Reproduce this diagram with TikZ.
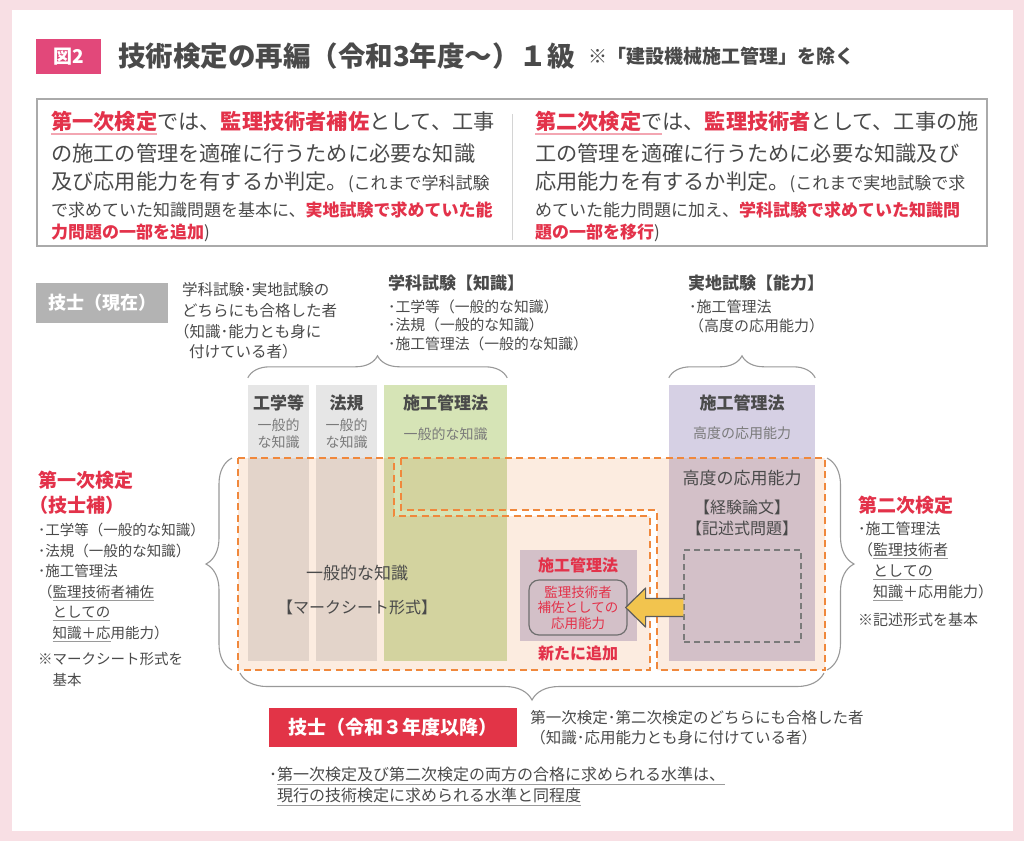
\documentclass[tikz,border=0pt]{standalone}
\usepackage{fontspec}
\setmainfont{Noto Sans CJK JP}
\usetikzlibrary{positioning,calc,decorations.pathreplacing}

\definecolor{framepink}{HTML}{F8DFE4}
\definecolor{figpink}{HTML}{E2487A}
\definecolor{inkgray}{HTML}{4A4A4A}
\definecolor{subgray}{HTML}{7A7A7A}
\definecolor{keyred}{HTML}{E3324A}
\definecolor{ulpink}{HTML}{F3A6B2}
\definecolor{ulgray}{HTML}{9A9A9A}
\definecolor{boxline}{HTML}{AAAAAA}
\definecolor{colgray}{HTML}{E6E6E6}
\definecolor{colgreen}{HTML}{D6E4B6}
\definecolor{colpurple}{HTML}{D6D0E4}
\definecolor{peach}{HTML}{FCECE0}
\definecolor{dashorange}{HTML}{F0883C}
\definecolor{arrowyellow}{HTML}{F2C44E}
\definecolor{bracegray}{HTML}{999999}
\definecolor{genzaigray}{HTML}{B3B3B3}
\definecolor{redbox}{HTML}{E23447}

\newcommand\fsz[1]{\fontsize{#1}{#1}\selectfont}
\newcommand\kr[1]{{\color{keyred}\bfseries #1}}
\newsavebox\ulbox
\newcommand\ulx[4][1.1pt]{\sbox\ulbox{#4}\rlap{\color{#2}\rule[#3]{\wd\ulbox}{#1}}\usebox\ulbox}

\begin{document}
\begin{tikzpicture}[x=1pt,y=-1pt,
    side text/.style={inner sep=0pt,anchor=west,text=inkgray,align=left},
    col box/.style={inner sep=0pt,minimum width=#1,minimum height=276},
    col title/.style={inner sep=0pt,text=inkgray,font=\bfseries\fsz{17}},
    col note/.style={inner sep=0pt,text=subgray,align=center,font=\fontsize{14}{17}\selectfont},
    mid text/.style={inner sep=0pt,text=inkgray,font=\fsz{17}},
    curly/.style={draw=bracegray,line width=1.1pt,decorate,decoration={brace,amplitude=#1}},
    zone/.style={draw=dashorange,line width=1.6pt,dash pattern=on 7pt off 4.5pt},
    tag/.style={inner sep=0pt,text=white,font=\bfseries\fsz{19}}]

\fill[framepink] (0,0) rectangle (1024,841);
\fill[white] (12,10) rectangle (1013,831);
\useasboundingbox (0,0) rectangle (1024,841);

% title
\node[tag,fill=figpink,minimum width=65,minimum height=35] (fig) at (68.5,56.5) {図2};
\node[side text,font=\bfseries\fsz{27.5}] (title) at (118,56) {技術検定の再編（令和3年度〜）１級};
\node[side text,font=\bfseries\fsz{19},right=13pt of title] (except) {※「建設機械施工管理」を除く};

% intro box
\node[draw=boxline,line width=1.3pt,minimum width=950,minimum height=147,inner sep=0pt] (intro) at (512,172.5) {};
\draw[boxline!50,line width=1pt] ([yshift=-16]intro.north) -- ([yshift=7]intro.south);

\node[side text,font=\fsz{21.2}] (first1) at (51,123) {\ulx[1.8pt]{ulpink}{-5pt}{\kr{第一次検定}}では、\kr{監理技術者補佐}として、工事};
\node[side text,font=\fsz{21.2}] (first2) at (51,153) {の施工の管理を適確に行うために必要な知識};
\node[side text,font=\fsz{21.2}] (first3) at (51,182) {及び応用能力を有するか判定。{\fsz{17}(これまで学科試験}};
\node[side text,font=\fsz{17}] (first4) at (51,210) {で求めていた知識問題を基本に、\kr{実地試験で求めていた能}};
\node[side text,font=\fsz{17}] (first5) at (51,233) {\kr{力問題の一部を追加})};

\node[side text,font=\fsz{21.2}] (second1) at (535,123) {\ulx[1.8pt]{ulpink}{-5pt}{\kr{第二次検定}で}は、\kr{監理技術者}として、工事の施};
\node[side text,font=\fsz{21.2}] (second2) at (535,153) {工の管理を適確に行うために必要な知識及び};
\node[side text,font=\fsz{21.2}] (second3) at (535,182) {応用能力を有するか判定。{\fsz{17}(これまで実地試験で求}};
\node[side text,font=\fsz{17}] (second4) at (535,210) {めていた能力問題に加え、\kr{学科試験で求めていた知識問}};
\node[side text,font=\fsz{17}] (second5) at (535,233) {\kr{題の一部を移行})};

% current engineer and old exams
\node[tag,fill=genzaigray,minimum width=132,minimum height=40,font=\bfseries\fsz{18}] (ginoNow) at (102,303) {技士（現在）};
\node[side text,font=\fontsize{15.5}{20.7}\selectfont] (ginoNowNote) at (182,321) {学科試験･実地試験の\\どちらにも合格した者\\\hspace*{-8pt}（知識･能力とも身に\\\hspace*{7pt}付けている者）};

\node[side text,font=\bfseries\fsz{17}] (gakkaHead) at (388,283) {学科試験【知識】};
\node[side text,font=\fontsize{14.8}{18.5}\selectfont] (gakkaList) at (388,325) {･工学等（一般的な知識）\\･法規（一般的な知識）\\･施工管理法（一般的な知識）};
\node[side text,font=\bfseries\fsz{17}] (jitchiHead) at (688,283) {実地試験【能力】};
\node[side text,font=\fontsize{15}{19}\selectfont] (jitchiList) at (689,316.5) {･施工管理法\\（高度の応用能力）};

% columns
\node[col box=61,fill=colgray] (kougaku) at (278.5,523) {};
\node[col box=61,fill=colgray] (houki) at (346.5,523) {};
\node[col box=123,fill=colgreen] (sekou) at (445.5,523) {};
\node[col box=146,fill=colpurple] (jitchi) at (742,523) {};

\draw[curly=22pt] ([yshift=7]kougaku.north west) -- ([yshift=7]sekou.north east);
\draw[curly=22pt] ([yshift=7]jitchi.north west) -- ([yshift=7]jitchi.north east);

% new exams
\begin{scope}[blend mode=multiply]
\fill[peach] (238,458) -- (394,458) -- (394,516) -- (650,516) -- (650,670) -- (238,670) -- cycle;
\fill[peach] (401,458) -- (825,458) -- (825,670) -- (657,670) -- (657,510) -- (401,510) -- cycle;
\node[fill=colpurple,minimum width=117,minimum height=91,inner sep=0pt] (newbox) at (578.5,595.5) {};
\end{scope}
\draw[zone] (238,458) -- (394,458) -- (394,516) -- (650,516) -- (650,670) -- (238,670) -- cycle;
\draw[zone] (401,458) -- (825,458) -- (825,670) -- (657,670) -- (657,510) -- (401,510) -- cycle;

\node[col title] (kougakuT) at ([yshift=-18]kougaku.north) {工学等};
\node[col note] (kougakuN) at ([yshift=-48.5]kougaku.north) {一般的\\な知識};
\node[col title] (houkiT) at ([yshift=-18]houki.north) {法規};
\node[col note] (houkiN) at ([yshift=-48.5]houki.north) {一般的\\な知識};
\node[col title] (sekouT) at ([yshift=-18]sekou.north) {施工管理法};
\node[col note] (sekouN) at ([yshift=-49]sekou.north) {一般的な知識};
\node[col title] (jitchiT) at ([yshift=-18]jitchi.north) {施工管理法};
\node[col note] (jitchiN) at ([yshift=-48]jitchi.north) {高度の応用能力};

\node[mid text] (general) at (357,573) {一般的な知識};
\node[mid text,font=\fsz{16}] (marksheet) at (357,607) {【マークシート形式】};
\node[mid text] (advanced) at (742,478) {高度の応用能力};
\node[mid text,font=\fsz{16}] (ronbun) at (742,507) {【経験論文】};
\node[mid text,font=\fsz{16}] (kijutsu) at (742,528) {【記述式問題】};

\node[inner sep=0pt,text=keyred,font=\bfseries\fsz{16}] (newhead) at (578,565) {施工管理法};
\node[draw=inkgray!80,line width=1.2pt,rounded corners=10pt,minimum width=98,minimum height=55,inner sep=0pt,
  text=keyred,align=center,font=\fontsize{13.5}{15.5}\selectfont] (assist) at (578,607.5) {監理技術者\\補佐としての\\応用能力};
\node[inner sep=0pt,text=keyred,font=\bfseries\fsz{16}] (newadd) at (578,653) {新たに追加};
\node[draw=subgray,dash pattern=on 6pt off 4pt,line width=1.2pt,minimum width=117,minimum height=92,inner sep=0pt] (essay) at (742.5,596) {};

\coordinate (arrowEnd) at (essay.west |- assist.east);
\fill[arrowyellow] ($(arrowEnd)+(0,-9)$) -- ($(assist.east)+(18,-9)$) -- ($(assist.east)+(18,-19.5)$)
  -- ($(assist.east)+(-2,0)$) -- ($(assist.east)+(18,19.5)$) -- ($(assist.east)+(18,9)$) -- ($(arrowEnd)+(0,9)$) -- cycle;
\draw[inkgray!90,line width=1.2pt,line join=round] ($(arrowEnd)+(0,-9)$) -- ($(assist.east)+(18,-9)$) -- ($(assist.east)+(18,-19.5)$)
  -- ($(assist.east)+(-2,0)$) -- ($(assist.east)+(18,19.5)$) -- ($(assist.east)+(18,9)$) -- ($(arrowEnd)+(0,9)$);

% braces round the new exams
\draw[curly=26pt] (232,670) -- (232,458);
\draw[curly=27pt] (827,458) -- (827,670);
\draw[curly=27pt] (824,673) -- (240,673);

% first exam
\node[side text,font=\bfseries\fsz{19},text=keyred] (firstExam) at (38,480) {第一次検定};
\node[side text,font=\bfseries\fsz{19},text=keyred] (firstSub) at (29,505) {（技士補）};
\node[side text,font=\fontsize{14.5}{20.6}\selectfont] (firstList) at (38,582.5) {･工学等（一般的な知識）\\･法規（一般的な知識）\\･施工管理法\\（\ulx{ulgray}{-3.5pt}{監理技術者補佐}\\\hspace*{14.5pt}\ulx{ulgray}{-3.5pt}{としての}\\\hspace*{14.5pt}\ulx{ulgray}{-3.5pt}{知識＋応}用能力）};
\node[side text,font=\fontsize{14.5}{21}\selectfont] (firstNote) at (38,669.5) {※マークシート形式を\\\hspace*{14.5pt}基本};

% second exam
\node[side text,font=\bfseries\fsz{19},text=keyred] (secondExam) at (858,505) {第二次検定};
\node[side text,font=\fontsize{15}{21}\selectfont] (secondList) at (858,561.5) {･施工管理法\\（\ulx{ulgray}{-3.5pt}{監理技術者}\\\hspace*{15pt}\ulx{ulgray}{-3.5pt}{としての}\\\hspace*{15pt}\ulx{ulgray}{-3.5pt}{知識}＋応用能力）};
\node[side text,font=\fsz{15}] (secondNote) at (858,620) {※記述形式を基本};

% new engineer
\node[tag,fill=redbox,minimum width=248,minimum height=39] (ginoNew) at (393,727.5) {技士（令和３年度以降）};
\node[side text,font=\fontsize{15.5}{20}\selectfont,right=13pt of ginoNew] (ginoNewNote) {第一次検定･第二次検定のどちらにも合格した者\\（知識･応用能力とも身に付けている者）};
\node[side text,font=\fontsize{16}{21}\selectfont] (level) at (269,786.5) {･\ulx{ulgray}{-4pt}{第一次検定及び第二次検定の両方の合格に求められる水準は、}\\\hspace*{8pt}\ulx{ulgray}{-4pt}{現行の技術検定に求められる水準と同程度}};

\end{tikzpicture}
\end{document}
